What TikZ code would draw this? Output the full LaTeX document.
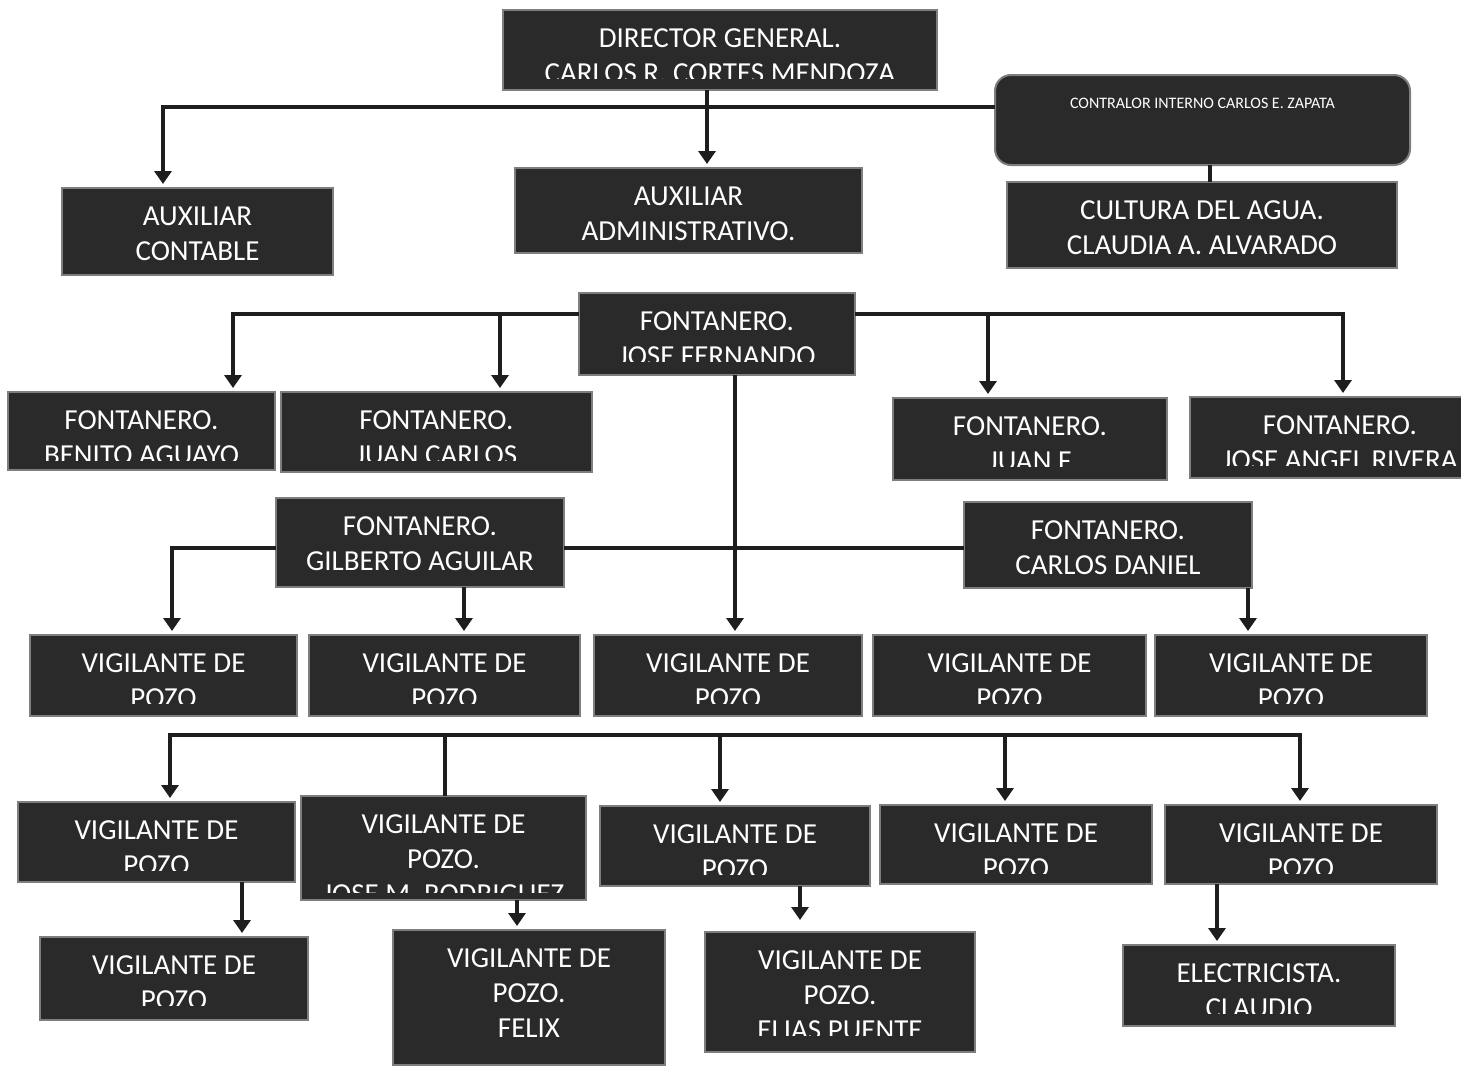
\documentclass[tikz,border=0pt]{standalone}
\usepackage{fontspec}
\setmainfont{Carlito}
\usetikzlibrary{arrows.meta}
\definecolor{boxfill}{HTML}{2A2A2A}
\definecolor{boxedge}{HTML}{7E7E7E}
\definecolor{linecol}{HTML}{1E1E1E}
\tikzset{
  box/.style={draw=boxedge, line width=2pt, fill=boxfill, inner sep=0pt, outer sep=0pt},
  plaintxt/.style={draw=none, fill=none, minimum width=0pt, minimum height=0pt, rounded corners=0pt,
    text=white, align=center, inner sep=0pt},
  boxtxt/.style={plaintxt, font=\fontsize{29}{35}\selectfont},
  smalltxt/.style={plaintxt, font=\fontsize{16}{19}\selectfont},
  conn/.style={draw=linecol, line width=4.5pt},
  ahead/.tip={Triangle[width=17pt,length=13pt]},
  arr/.style={conn, -ahead, shorten >=4pt},
  arrL/.style={conn, ahead-, shorten <=4pt},
  arr2/.style={conn, ahead-ahead, shorten >=4pt, shorten <=4pt}
}
% #1: depth (from the top of the box) below which the text is hidden
\newcommand\orgbox[7][68]{%
  \node[box, minimum width={(#5)-(#3)}, minimum height={(#6)-(#4)},
    path picture={\clip (path picture bounding box.north west) rectangle ([yshift=-#1pt]path picture bounding box.north east);
      \node[boxtxt, anchor=north] at ([yshift=-19pt]path picture bounding box.north) {#7};}]
    (#2) at ({((#3)+(#5))/2},{((#4)+(#6))/2}) {};}
\begin{document}
\begin{tikzpicture}[x=1pt,y=-1pt]
\fill[white] (0,0) rectangle (1461,1068);
\useasboundingbox (0,0) rectangle (1461,1068);

% top level
\orgbox{dir}{503}{10}{937}{90}{DIRECTOR GENERAL.\\CARLOS R. CORTES MENDOZA}
\node[box, rounded corners=16pt, minimum width=415, minimum height=90,
  path picture={\node[smalltxt, anchor=north] at ([yshift=-23pt]path picture bounding box.north) {CONTRALOR INTERNO CARLOS E. ZAPATA};}]
  (contr) at (1202.5,120) {};
\orgbox[90]{auxc}{62}{188}{333}{275}{AUXILIAR\\CONTABLE}
\orgbox[90]{auxadm}{515}{168}{862}{253}{AUXILIAR\\ADMINISTRATIVO.}
\orgbox[90]{cult}{1007}{182}{1397}{268}{CULTURA DEL AGUA.\\CLAUDIA A. ALVARADO}

% fontaneros
\orgbox{jf}{579}{293}{855}{375}{FONTANERO.\\JOSE FERNANDO}
\orgbox{benito}{8}{392}{275}{470}{FONTANERO.\\BENITO AGUAYO}
\orgbox{juanc}{281}{392}{592}{472}{FONTANERO.\\JUAN CARLOS}
\orgbox{juanf}{893}{398}{1167}{480}{FONTANERO.\\JUAN F}
\orgbox{jangel}{1190}{397}{1490}{478}{FONTANERO.\\JOSE ANGEL RIVERA}
\orgbox[90]{gil}{276}{498}{564}{587}{FONTANERO.\\GILBERTO AGUILAR}
\orgbox[90]{cd}{964}{502}{1252}{588}{FONTANERO.\\CARLOS DANIEL}

% vigilantes row 1
\orgbox{v1}{30}{635}{297}{716}{VIGILANTE DE\\POZO}
\orgbox{v2}{309}{635}{580}{716}{VIGILANTE DE\\POZO}
\orgbox{v3}{594}{635}{862}{716}{VIGILANTE DE\\POZO}
\orgbox{v4}{873}{635}{1146}{716}{VIGILANTE DE\\POZO}
\orgbox{v5}{1155}{635}{1427}{716}{VIGILANTE DE\\POZO}

% vigilantes row 2
\orgbox{w1}{18}{802}{295}{882}{VIGILANTE DE\\POZO}
\orgbox[96]{w2}{301}{796}{586}{900}{VIGILANTE DE\\POZO.\\JOSE M. RODRIGUEZ}
\orgbox{w3}{600}{806}{870}{886}{VIGILANTE DE\\POZO}
\orgbox{w4}{880}{805}{1152}{884}{VIGILANTE DE\\POZO}
\orgbox{w5}{1165}{805}{1437}{884}{VIGILANTE DE\\POZO}

% row 3
\orgbox{x1}{40}{937}{308}{1020}{VIGILANTE DE\\POZO}
\orgbox[135]{x2}{393}{930}{665}{1065}{VIGILANTE DE\\POZO.\\FELIX}
\orgbox[103]{x3}{705}{932}{975}{1052}{VIGILANTE DE\\POZO.\\ELIAS PUENTE}
\orgbox{x4}{1123}{945}{1395}{1026}{ELECTRICISTA.\\CLAUDIO}

% coordinates for connectors
\coordinate (c1) at (163,107);
\coordinate (b1) at (707,0);
\coordinate (c2) at (1210,0);
\coordinate (f1) at (233,314);
\coordinate (f2) at (500,314);
\coordinate (f3) at (988,314);
\coordinate (f4) at (1343,314);
\coordinate (f5) at (735,0);
\coordinate (g1) at (172,548);
\coordinate (g2) at (464,0);
\coordinate (g3) at (1248,0);
\coordinate (r1) at (170,735);
\coordinate (r2) at (445,735);
\coordinate (r3) at (720,735);
\coordinate (r4) at (1005,735);
\coordinate (r5) at (1300,735);
\coordinate (s1) at (242,0);
\coordinate (s2) at (517,0);
\coordinate (s3) at (800,0);
\coordinate (s4) at (1217,0);

% connectors
\draw[arrL] (c1 |- auxc.north) -- (c1) -- (contr.west |- c1);
\draw[arr] (b1 |- dir.south) -- (b1 |- auxadm.north);
\draw[conn] (c2 |- contr.south) -- (c2 |- cult.north);

\draw[arrL] (f1 |- benito.north) -- (f1) -- (jf.west |- f1);
\draw[arr] (jf.east |- f4) -- (f4) -- (f4 |- jangel.north);
\draw[arr] (f2) -- (f2 |- juanc.north);
\draw[arr] (f3) -- (f3 |- juanf.north);
\draw[arr] (f5 |- jf.south) -- (f5 |- v3.north);

\draw[arrL] (g1 |- v1.north) -- (g1) -- (gil.west |- g1);
\draw[conn] (gil.east |- g1) -- (cd.west |- g1);
\draw[arr] (g2 |- gil.south) -- (g2 |- v2.north);
\draw[arr] (g3 |- cd.south) -- (g3 |- v5.north);

\draw[arr2] (r1 |- w1.north) -- (r1) -- (r5) -- (r5 |- w5.north);
\draw[conn] (r2) -- (r2 |- w2.north);
\draw[arr] (r3) -- (r3 |- w3.north);
\draw[arr] (r4) -- (r4 |- w4.north);

\draw[arr] (s1 |- w1.south) -- (s1 |- x1.north);
\draw[arr] (s2 |- w2.south) -- (s2 |- x2.north);
\draw[arr] (s3 |- w3.south) -- ([yshift=8pt]s3 |- x3.north);
\draw[arr] (s4 |- w5.south) -- (s4 |- x4.north);
\end{tikzpicture}
\end{document}
